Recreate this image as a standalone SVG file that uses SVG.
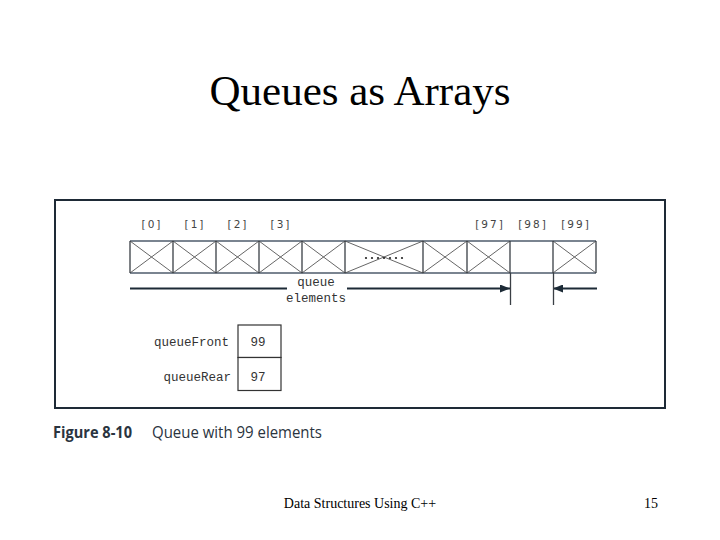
<svg xmlns="http://www.w3.org/2000/svg" width="720" height="540" viewBox="0 0 720 540">
<style>
.title{font-family:"Liberation Serif","Times New Roman",serif;font-size:43px;fill:#000}
.foot{font-family:"Liberation Serif","Times New Roman",serif;font-size:14px;fill:#000}
.idx{font-family:"DejaVu Sans","Liberation Sans",sans-serif;font-size:10.5px;fill:#444;text-anchor:middle;letter-spacing:2px}
.mono{font-family:"Liberation Mono","Courier New",monospace;font-size:12.5px;fill:#333}
.rail{stroke:#7a8490;stroke-width:2;fill:none}
.div{stroke:#3a3f45;stroke-width:1.3;fill:none}
.diag{stroke:#555;stroke-width:0.9;fill:none}
.conn{stroke:#1c2a36;stroke-width:2;fill:none}
.tick{stroke:#3a3f45;stroke-width:1.3;fill:none}
.cell{stroke:#333;stroke-width:1.2;fill:#fff}
.capb{font-family:"Open Sans","Liberation Sans",sans-serif;font-weight:bold;font-size:15.5px;fill:#2a3440}
.cap{font-family:"Open Sans","Liberation Sans",sans-serif;font-size:15.5px;fill:#2a3440}
</style>
<defs>
<marker id="ah" viewBox="0 0 10 8" refX="10" refY="4" markerWidth="10" markerHeight="8" markerUnits="userSpaceOnUse" orient="auto">
<path d="M0,0 L10,4 L0,8 z" fill="#1c2a36"/>
</marker>
</defs>
<rect width="720" height="540" fill="#fff"/>
<text class="title" x="360" y="105" text-anchor="middle">Queues as Arrays</text>

<rect id="figure-frame" x="55" y="200" width="610" height="208" fill="none" stroke="#1e2a36" stroke-width="2"/>

<g id="array">
<line class="rail" x1="130" y1="241" x2="596" y2="241"/>
<line class="rail" x1="130" y1="273" x2="596" y2="273"/>
<g class="diag">
<path d="M130,241 L173,273 M173,241 L130,273"/>
<path d="M173,241 L216,273 M216,241 L173,273"/>
<path d="M216,241 L259,273 M259,241 L216,273"/>
<path d="M259,241 L302,273 M302,241 L259,273"/>
<path d="M302,241 L345,273 M345,241 L302,273"/>
<path d="M345,241 L423,273 M423,241 L345,273"/>
<path d="M423,241 L467,273 M467,241 L423,273"/>
<path d="M467,241 L510,273 M510,241 L467,273"/>
<path d="M553,241 L596,273 M596,241 L553,273"/>
</g>
<g class="div">
<path d="M130,241V273 M173,241V273 M216,241V273 M259,241V273 M302,241V273 M345,241V273 M423,241V273 M467,241V273 M510,241V273 M553,241V273 M596,241V273"/>
</g>
<g fill="#222">
<circle cx="366" cy="258" r="1.1"/><circle cx="372" cy="258" r="1.1"/><circle cx="378" cy="258" r="1.1"/><circle cx="384" cy="258" r="1.1"/><circle cx="390" cy="258" r="1.1"/><circle cx="396" cy="258" r="1.1"/><circle cx="402" cy="258" r="1.1"/>
</g>
</g>

<g id="indices">
<text class="idx" x="152" y="228">[0]</text>
<text class="idx" x="195" y="228">[1]</text>
<text class="idx" x="238" y="228">[2]</text>
<text class="idx" x="281" y="228">[3]</text>
<text class="idx" x="490" y="228">[97]</text>
<text class="idx" x="533" y="228">[98]</text>
<text class="idx" x="576" y="228">[99]</text>
</g>

<g id="connectors">
<line class="conn" x1="130" y1="288.5" x2="287" y2="288.5"/>
<line class="conn" x1="347" y1="288.5" x2="510" y2="288.5" marker-end="url(#ah)"/>
<line class="conn" x1="597" y1="288.5" x2="553" y2="288.5" marker-end="url(#ah)"/>
<line class="tick" x1="510.5" y1="273" x2="510.5" y2="305"/>
<line class="tick" x1="553.5" y1="273" x2="553.5" y2="305"/>
</g>

<g id="queue-elements-label">
<text class="mono" x="316" y="286" text-anchor="middle">queue</text>
<text class="mono" x="316" y="301.5" text-anchor="middle">elements</text>
</g>

<g id="queueFront">
<text class="mono" x="229" y="346" text-anchor="end">queueFront</text>
<rect class="cell" x="238" y="325" width="43" height="32.5"/>
<text class="mono" x="258" y="346" text-anchor="middle">99</text>
</g>
<g id="queueRear">
<text class="mono" x="231" y="381" text-anchor="end">queueRear</text>
<rect class="cell" x="238" y="357.5" width="43" height="33"/>
<text class="mono" x="258" y="381" text-anchor="middle">97</text>
</g>

<g id="caption">
<text class="capb" x="53" y="438" textLength="79" lengthAdjust="spacingAndGlyphs">Figure 8-10</text>
<text class="cap" x="152" y="438" textLength="170" lengthAdjust="spacingAndGlyphs">Queue with 99 elements</text>
</g>

<text class="foot" x="360" y="508" text-anchor="middle">Data Structures Using C++</text>
<text class="foot" x="658" y="508" text-anchor="end">15</text>
</svg>
